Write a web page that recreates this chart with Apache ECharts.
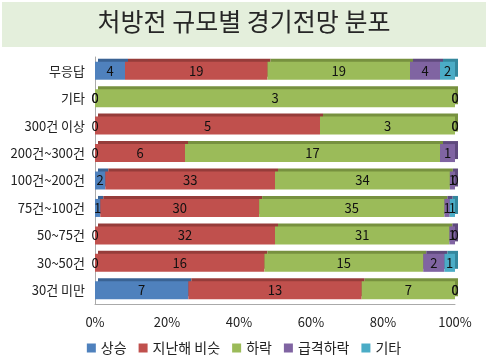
<!DOCTYPE html>
<html><head><meta charset="utf-8">
<script src="https://cdn.jsdelivr.net/npm/echarts@6/dist/echarts.min.js"></script>
<style>html,body{margin:0;padding:0;background:#fff}#c{width:488px;height:362px}</style>
</head><body><div id="c"></div>
<script>
var title = '처방전 규모별 경기전망 분포';
var categories = ['무응답','기타','300건 이상','200건~300건','100건~200건','75건~100건','50~75건','30~50건','30건 미만'];
var seriesNames = ['상승','지난해 비슷','하락','급격하락','기타'];
var up = [4,0,0,0,2,1,0,0,7];
var similar = [19,0,5,6,33,30,32,16,13];
var down = [19,3,3,17,34,35,31,15,7];
var sharpDown = [4,0,0,1,1,1,1,2,0];
var other = [2,0,0,0,0,1,0,1,0];
var xTicks = ['0%','20%','40%','60%','80%','100%'];

var colors = ['#4f81bd','#c0504d','#9bbb59','#8064a2','#4bacc6'];
var shades = ['#3a6394','#963c3a','#77913f','#5f4a7d','#34879d'];
var raw = [up, similar, down, sharpDown, other];
var totals = categories.map(function(_, i){ return raw.reduce(function(s,a){return s+a[i];},0); });

var chart = echarts.init(document.getElementById('c'));
var series = raw.map(function(arr, k){
  return {
    name: seriesNames[k], type: 'bar', stack: 'all', barWidth: 18,
    data: arr.map(function(v,i){ return {value: v/totals[i]*100, raw: v}; }),
    itemStyle: {color: colors[k], shadowColor: shades[k], shadowOffsetX: 3, shadowOffsetY: -3, shadowBlur: 0},
    label: {show: true, position: 'inside', color: '#111', fontSize: 13, fontFamily: 'Noto Sans CJK KR',
      formatter: function(p){ return p.data.raw; }},
    emphasis: {disabled: true}
  };
});
chart.setOption({
  animation: false,
  graphic: [
    {type: 'rect', shape: {x: 2, y: 2, width: 484, height: 45}, style: {fill: '#e4efdc'}},
    {type: 'text', left: 'center', top: 9, style: {text: title, fontSize: 25, fill: '#262626', fontFamily: 'Noto Sans CJK KR'}}
  ],
  legend: {bottom: 2, left: 'center', itemWidth: 9, itemHeight: 9, itemGap: 12, icon: 'rect',
    textStyle: {fontSize: 14, color: '#222', fontFamily: 'Noto Sans CJK KR'}},
  grid: {left: 95, right: 33, top: 57, bottom: 58},
  xAxis: {type: 'value', min: 0, max: 100, interval: 20,
    axisLabel: {formatter: function(v){ return xTicks[v/20]; }, fontSize: 13, color: '#222', margin: 12, fontFamily: 'Noto Sans CJK KR'},
    splitLine: {show: false}, axisLine: {show: true, lineStyle: {color: '#aaa'}}, axisTick: {show: false}},
  yAxis: {type: 'category', data: categories, inverse: true,
    axisLabel: {fontSize: 13, color: '#222', margin: 10, fontFamily: 'Noto Sans CJK KR'},
    axisLine: {show: true, lineStyle: {color: '#aaa'}}, axisTick: {show: false}},
  series: series
});
</script></body></html>
